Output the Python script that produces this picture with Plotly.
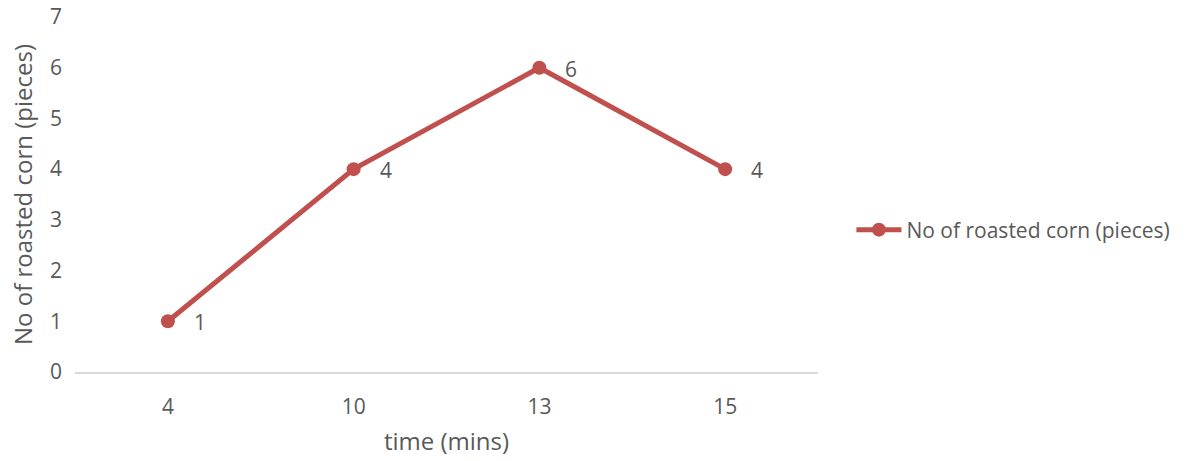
import plotly.graph_objects as go

categories = ["4", "10", "13", "15"]
values = [1, 4, 6, 4]
series_name = "No of roasted corn (pieces)"
y_ticks = [0, 1, 2, 3, 4, 5, 6, 7]

FONT = "Open Sans"
TXT = "#595959"
RED = "#C0504D"

fig = go.Figure()
fig.add_trace(go.Scatter(
    x=categories, y=values, mode="lines+markers", name=series_name,
    line=dict(color=RED, width=5), marker=dict(color=RED, size=14),
))
for i, v in enumerate(values):
    fig.add_annotation(x=i, y=v, text=str(v), showarrow=False, xshift=32, yshift=-1,
                       font=dict(family=FONT, size=21, color=TXT))

fig.update_layout(
    width=1191, height=461, paper_bgcolor="white", plot_bgcolor="white",
    margin=dict(l=75, r=373, t=17, b=89),
    font=dict(family=FONT, color=TXT, size=21),
    showlegend=True,
    legend=dict(x=1.045, y=0.4, xanchor="left", yanchor="middle",
                font=dict(family=FONT, size=21, color=TXT), itemwidth=45,
                borderwidth=0, tracegroupgap=0),
    xaxis=dict(type="category", range=[-0.5, 3.5], showgrid=False, showline=True,
               linecolor="#D9D9D9", linewidth=1.5, ticks="", ticklabelstandoff=15,
               tickfont=dict(size=21), automargin=False,
               title=dict(text="time (mins)", font=dict(family=FONT, size=24, color=TXT), standoff=14)),
    yaxis=dict(range=[0, 7], tickvals=y_ticks, showgrid=False, zeroline=False, showline=False,
               ticks="", ticklabelstandoff=12, tickfont=dict(size=21), automargin=False,
               title=dict(text=series_name, font=dict(family=FONT, size=24, color=TXT), standoff=10)),
)
fig.write_html("out.html")
